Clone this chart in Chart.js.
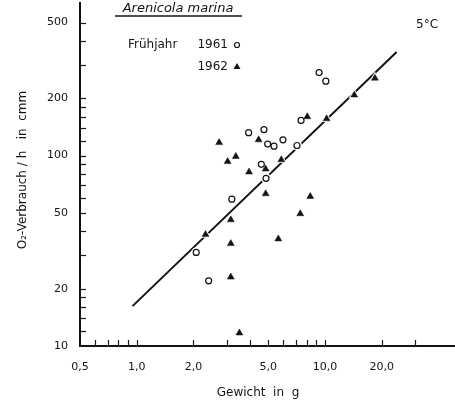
<!DOCTYPE html>
<html lang="de">
<head>
<meta charset="utf-8">
<title>Arenicola marina</title>
<script src="https://cdn.jsdelivr.net/npm/chart.js@4/dist/chart.umd.min.js"></script>
<style>
  html, body { margin: 0; padding: 0; background: #fff; }
  #wrap { width: 455px; height: 407px; }
</style>
</head>
<body>
<div id="wrap"><canvas id="graficoArenicola" width="455" height="407"></canvas></div>
<script>
// ================================
// Dados
// ================================
const gewicht1961 = [9.3, 10.1, 3.93, 4.74, 4.96, 5.36, 5.98, 7.1, 7.46, 4.59, 4.86, 3.2, 2.07, 2.41]
const verbrauch1961 = [273, 246, 132, 137, 115, 112, 121, 113, 153, 90, 76, 59, 31, 22]

const gewicht1962 = [18.4, 14.3, 8.05, 10.2, 2.74, 4.44, 3.36, 3.04, 3.95, 4.84, 5.86, 4.84, 8.35, 7.39, 3.16, 2.32, 3.16, 5.65, 3.16, 3.51]
const verbrauch1962 = [255, 208, 160, 156, 117, 121, 99, 93, 82, 85, 95, 63, 61, 49.5, 46, 38.5, 34.5, 36.5, 23, 11.7]

const regressaoX = [0.95, 24]
const regressaoY = [16.2, 350]

const xTicks = [0.6, 0.7, 0.8, 0.9, 1, 2, 3, 4, 5, 6, 7, 8, 9, 10, 20, 30]
const xRotulos = [0.5, 1, 2, 5, 10, 20]
const yTicks = [12, 14, 16, 18, 20, 30, 40, 50, 60, 70, 80, 90, 100, 120, 140, 160, 180, 200, 300, 400, 500]
const yRotulos = [10, 20, 50, 100, 200, 500]

const corTinta = "#141414"
const fonteBase = "'DejaVu Sans', sans-serif"

function pares(xs, ys) {
  return xs.map((x, i) => ({ x: x, y: ys[i] }))
}

function rotuloX(v) {
  return v.toFixed(1).replace(".", ",")
}

// sem padding extra dos rótulos (eixo começa no topo)
function semPadding(scale) {
  scale.paddingTop = 0
  scale.paddingBottom = 0
  scale.paddingLeft = 0
  scale.paddingRight = 0
}

// ================================
// Plugin: ticks internos + textos
// ================================
const pluginPapel = {
  id: "papel",
  afterDraw(chart) {
    const ctx = chart.ctx
    const sx = chart.scales.x
    const sy = chart.scales.y
    const area = chart.chartArea

    ctx.save()
    ctx.strokeStyle = corTinta
    ctx.lineWidth = 1.2

    // ticks do eixo X (para cima)
    xTicks.forEach((v) => {
      const px = Math.round(sx.getPixelForValue(v)) + 0.5
      ctx.beginPath()
      ctx.moveTo(px, area.bottom)
      ctx.lineTo(px, area.bottom - 6)
      ctx.stroke()
    })

    // ticks do eixo Y (para a direita)
    yTicks.forEach((v) => {
      const py = Math.round(sy.getPixelForValue(v)) + 0.5
      ctx.beginPath()
      ctx.moveTo(area.left, py)
      ctx.lineTo(area.left + 6, py)
      ctx.stroke()
    })

    ctx.fillStyle = corTinta
    ctx.textBaseline = "middle"

    // título da espécie
    ctx.font = "italic 13px " + fonteBase
    ctx.textAlign = "center"
    ctx.fillText("Arenicola marina", 178, 9)
    ctx.lineWidth = 1.3
    ctx.beginPath()
    ctx.moveTo(115, 16)
    ctx.lineTo(242, 16)
    ctx.stroke()

    // legenda
    ctx.font = "12px " + fonteBase
    ctx.textAlign = "left"
    ctx.fillText("Frühjahr", 128, 45)
    ctx.textAlign = "right"
    ctx.fillText("1961", 228, 45)
    ctx.fillText("1962", 228, 67)

    ctx.lineWidth = 1.2
    ctx.beginPath()
    ctx.arc(237, 45, 2.5, 0, Math.PI * 2)
    ctx.stroke()
    ctx.beginPath()
    ctx.moveTo(237, 63)
    ctx.lineTo(240.5, 69)
    ctx.lineTo(233.5, 69)
    ctx.closePath()
    ctx.fill()

    // temperatura
    ctx.textAlign = "left"
    ctx.fillText("5°C", 416, 25)

    // títulos dos eixos
    ctx.textAlign = "center"
    ctx.font = "12px " + fonteBase
    ctx.fillText("Gewicht  in  g", 258, 393)

    ctx.translate(23, 170)
    ctx.rotate(-Math.PI / 2)
    ctx.fillText("O₂-Verbrauch / h   in  cmm", 0, 0)
    ctx.restore()
  },
}

// ================================
// Gráfico
// ================================
const ctx = document.getElementById("graficoArenicola").getContext("2d")

new Chart(ctx, {
  type: "scatter",
  data: {
    datasets: [
      {
        type: "line",
        label: "Regression",
        data: pares(regressaoX, regressaoY),
        borderColor: corTinta,
        borderWidth: 2,
        pointRadius: 0,
        pointHoverRadius: 0,
        fill: false,
        order: 5,
      },
      // halos brancos: abrem a reta em volta dos pontos, como no original
      {
        label: "halo 1961",
        data: pares(gewicht1961, verbrauch1961),
        pointStyle: "circle",
        pointRadius: 5,
        borderWidth: 0,
        backgroundColor: "#fff",
        order: 4,
      },
      {
        label: "halo 1962",
        data: pares(gewicht1962, verbrauch1962),
        pointStyle: "triangle",
        pointRadius: 6.5,
        borderWidth: 0,
        backgroundColor: "#fff",
        order: 3,
      },
      {
        label: "Frühjahr 1961",
        data: pares(gewicht1961, verbrauch1961),
        pointStyle: "circle",
        pointRadius: 3,
        borderColor: corTinta,
        borderWidth: 1.2,
        backgroundColor: "#fff",
        order: 1,
      },
      {
        label: "1962",
        data: pares(gewicht1962, verbrauch1962),
        pointStyle: "triangle",
        pointRadius: 4,
        borderColor: corTinta,
        borderWidth: 0.5,
        backgroundColor: corTinta,
        order: 2,
      },
    ],
  },
  options: {
    responsive: false,
    animation: false,
    layout: { autoPadding: false, padding: { top: 3, right: 0, left: 0, bottom: 0 } },
    plugins: {
      legend: { display: false },
      tooltip: { enabled: false },
    },
    scales: {
      x: {
        type: "logarithmic",
        min: 0.5,
        max: 49,
        afterBuildTicks: (scale) => {
          scale.ticks = xRotulos.map((v) => ({ value: v }))
        },
        afterFit: (scale) => {
          scale.height = 61
          semPadding(scale)
        },
        grid: { display: false, drawTicks: false },
        border: { display: true, color: corTinta, width: 2 },
        ticks: {
          autoSkip: false,
          maxRotation: 0,
          padding: 15,
          color: corTinta,
          font: { family: fonteBase, size: 11 },
          callback: (v) => rotuloX(v),
        },
      },
      y: {
        type: "logarithmic",
        min: 10,
        max: 633,
        afterBuildTicks: (scale) => {
          scale.ticks = yRotulos.map((v) => ({ value: v }))
        },
        afterFit: (scale) => {
          scale.width = 80
          semPadding(scale)
        },
        grid: { display: false, drawTicks: false },
        border: { display: true, color: corTinta, width: 2 },
        ticks: {
          autoSkip: false,
          padding: 12,
          color: corTinta,
          font: { family: fonteBase, size: 11 },
          callback: (v) => String(v),
        },
      },
    },
  },
  plugins: [pluginPapel],
})
</script>
</body>
</html>
